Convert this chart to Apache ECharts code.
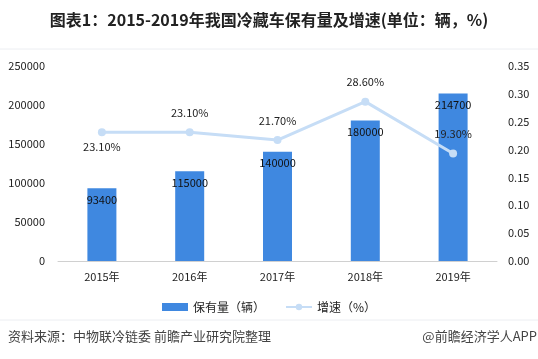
<!DOCTYPE html>
<html><head><meta charset="utf-8">
<script src="https://cdn.jsdelivr.net/npm/echarts@6/dist/echarts.min.js"></script>
<style>html,body{margin:0;padding:0;background:#fff}#c{width:538px;height:359px}</style>
</head><body><div id="c"></div>
<script>
const categories = ['2015年','2016年','2017年','2018年','2019年'];
const stock = [93400, 115000, 140000, 180000, 214700];
const growth = [0.231, 0.231, 0.217, 0.286, 0.193];
const growthLabels = ['23.10%','23.10%','21.70%','28.60%','19.30%'];
const leftTicks = ['0','50000','100000','150000','200000','250000'];
const rightTicks = ['0.00','0.05','0.10','0.15','0.20','0.25','0.30','0.35'];

const font = '"Noto Sans CJK SC", "Noto Sans", sans-serif';
const chart = echarts.init(document.getElementById('c'));
chart.setOption({
  animation: false,
  textStyle: {fontFamily: font},
  title: {
    text: '图表1：2015-2019年我国冷藏车保有量及增速(单位：辆，%)',
    left: 'center', top: 7,
    textStyle: {fontSize: 16, fontWeight: 'bold', color: '#222', fontFamily: font}
  },
  graphic: [
    {type: 'line', shape: {x1: 0, y1: 49, x2: 538, y2: 49}, style: {stroke: '#eceef2', lineWidth: 1}},
    {type: 'line', shape: {x1: 0, y1: 320, x2: 538, y2: 320}, style: {stroke: '#eceef2', lineWidth: 1}},
    {type: 'text', left: 8, top: 330, style: {text: '资料来源：中物联冷链委 前瞻产业研究院整理', fontSize: 13, fill: '#444', fontFamily: font}},
    {type: 'text', right: 1, top: 330, style: {text: '@前瞻经济学人APP', fontSize: 13, fill: '#444', fontFamily: font}}
  ],
  legend: {
    top: 296, left: 'center',
    itemGap: 20,
    textStyle: {fontSize: 12, color: '#222', fontFamily: font},
    data: [
      {name: '保有量（辆）', icon: 'rect', itemStyle: {color: '#3f88e0'}},
      {name: '增速（%）'}
    ],
    itemWidth: 26, itemHeight: 8
  },
  grid: {left: 58, right: 41, top: 66, bottom: 98},
  xAxis: {
    type: 'category', data: categories,
    axisLine: {lineStyle: {color: '#d0d0d0'}},
    axisTick: {show: false},
    axisLabel: {color: '#222', fontSize: 11, margin: 10, fontFamily: font}
  },
  yAxis: [
    {type: 'value', min: 0, max: 250000, interval: 50000,
     axisLine: {show: false}, axisTick: {show: false}, splitLine: {show: false},
     axisLabel: {color: '#222', fontSize: 11, margin: 13, fontFamily: font,
       formatter: (v) => leftTicks[Math.round(v / 50000)]}},
    {type: 'value', min: 0, max: 0.35, interval: 0.05,
     axisLine: {show: false}, axisTick: {show: false}, splitLine: {show: false},
     axisLabel: {color: '#222', fontSize: 11, margin: 11, align: 'left', fontFamily: font,
       formatter: (v) => rightTicks[Math.round(v / 0.05)]}}
  ],
  series: [
    {name: '保有量（辆）', type: 'bar', data: stock, barWidth: 29,
     itemStyle: {color: '#3f88e0'},
     label: {show: true, position: 'insideTop', distance: 6, color: '#111', fontSize: 11, fontFamily: font}},
    {name: '增速（%）', type: 'line', yAxisIndex: 1,
     data: growth.map((v, i) => ({value: v, label: {position: i === 0 ? 'bottom' : 'top', distance: i === 0 ? 5 : 10}})),
     symbol: 'circle', symbolSize: 8,
     lineStyle: {color: '#c6ddf6', width: 3},
     itemStyle: {color: '#c6ddf6'},
     label: {show: true, color: '#222', fontSize: 11, fontFamily: font,
       formatter: (p) => growthLabels[p.dataIndex]}}
  ]
});
</script></body></html>
